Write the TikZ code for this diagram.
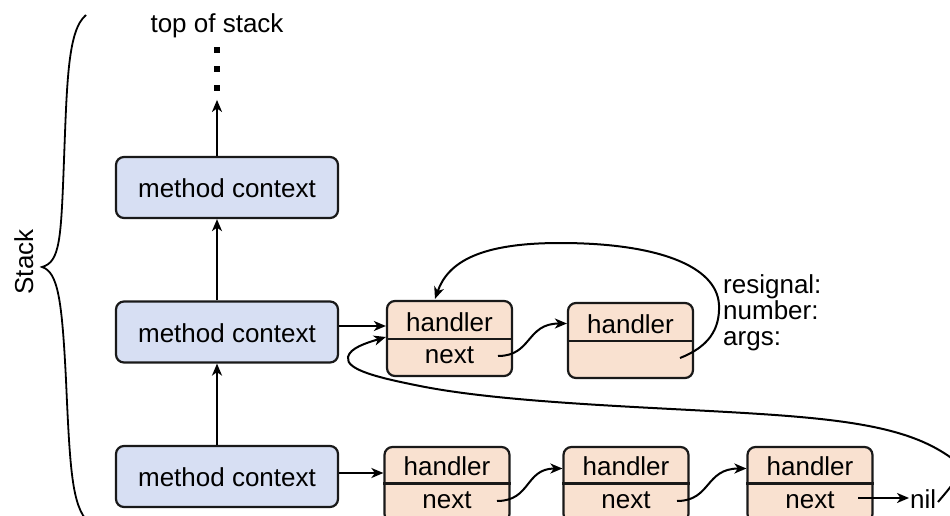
\documentclass[tikz,border=0pt]{standalone}
\usepackage{fontspec}
\setmainfont{Liberation Sans}
\usetikzlibrary{arrows.meta,calc}
\definecolor{mcblue}{RGB}{215,223,243}
\definecolor{hpeach}{RGB}{249,225,208}
\begin{document}
\begin{tikzpicture}[x=1pt,y=-1pt,
  font=\fontsize{26}{30}\selectfont,
  mcbox/.style={draw=black!90,line width=2.2pt,rounded corners=8pt,fill=mcblue,minimum width=222pt,minimum height=61pt,inner sep=0pt},
  hbox/.style={draw=black!90,line width=2.2pt,rounded corners=8pt,fill=hpeach,minimum width=125pt,minimum height=75pt,inner sep=0pt},
  lbl/.style={anchor=base,inner sep=0pt},
  lblw/.style={anchor=base west,inner sep=0pt},
  arr/.style={line width=2pt,-{Stealth[length=12pt,width=10pt,inset=3.5pt]}},
  divider/.style={line width=2.2pt,draw=black!90},
  dot/.style={fill=black,minimum size=5.5pt,inner sep=0pt}
]
\useasboundingbox (0,0) rectangle (950,516);
\clip (0,0) rectangle (950,516);

% brace and Stack label
\draw[line width=1.8pt] (86,15) .. controls (68,30) and (67,80) .. (64,160)
  .. controls (61,240) and (60,262) .. (42,267)
  .. controls (58,272) and (62,300) .. (66,380)
  .. controls (70,470) and (72,505) .. (88,522);
\node[rotate=90,anchor=base,inner sep=0pt] (stack) at (33,262) {Stack};

% method contexts
\node[mcbox] (mc3) at (227,187.5) {};
\node[mcbox] (mc2) at (227,332) {};
\node[mcbox] (mc1) at (227,476.5) {};
\node[lbl] (mc3t) at (227,197) {method context};
\node[lbl] (mc2t) at (227,342) {method context};
\node[lbl] (mc1t) at (227,486) {method context};

% top of stack
\node[lbl] (tos) at (217,33) {top of stack};
\node[dot] (d3) at (217,50) {};
\node[dot] (d2) at (217,69) {};
\node[dot] (d1) at (217,88) {};

\coordinate (v1) at ($(mc1.north)+(-10,0)$);
\coordinate (v2) at ($(mc2.north)+(-10,0)$);
\coordinate (v3) at ($(mc3.north)+(-10,0)$);
\draw[arr] (v1) -- (v1 |- mc2.south);
\draw[arr] (v2) -- (v2 |- mc3.south);
\draw[arr,shorten >=9pt] (v3) -- (v3 |- d1.south);

% handler boxes middle row
\node[hbox] (h1) at (449.5,338.5) {};
\node[hbox] (h2) at (630.5,340.5) {};
\draw[divider] ($(h1.west)+(0,0.5)$) -- ($(h1.east)+(0,0.5)$);
\draw[divider] ($(h2.west)+(0,0.5)$) -- ($(h2.east)+(0,0.5)$);
\node[lbl] (h1a) at (449.5,331) {handler};
\node[lbl] (h1b) at (449.5,363) {next};
\node[lbl] (h2a) at (630.5,333) {handler};

% handler boxes bottom row
\node[hbox] (b1) at (447,484.5) {};
\node[hbox] (b2) at (626,484.5) {};
\node[hbox] (b3) at (810,484.5) {};
\foreach \b in {b1,b2,b3}{
  \draw[divider] ($(\b.west)+(0,-1)$) -- ($(\b.east)+(0,-1)$);
}
\node[lbl] (b1a) at (447,475) {handler};
\node[lbl] (b1b) at (447,508) {next};
\node[lbl] (b2a) at (626,475) {handler};
\node[lbl] (b2b) at (626,508) {next};
\node[lbl] (b3a) at (810,475) {handler};
\node[lbl] (b3b) at (810,508) {next};

\node[lblw] (nil) at (910,508) {nil};

% labels
\node[lblw] (rs) at (723,293) {resignal:};
\node[lblw] (nm) at (723,319) {number:};
\node[lblw] (ag) at (723,345) {args:};

% method -> handler arrows
\coordinate (a2) at ($(mc2.east)+(0,-6)$);
\coordinate (a1) at ($(mc1.east)+(0,-3.5)$);
\draw[arr] (a2) -- (a2 -| h1.west);
\draw[arr] (a1) -- (a1 -| b1.west);

% next links
\coordinate (s1) at (498,356);
\draw[arr] (s1) .. controls (532,356) and (526,323.5) .. ($(h2.west)+(0,-17)$);
\coordinate (s4) at (497,501);
\draw[arr] (s4) .. controls (531,501) and (525,468.5) .. ($(b2.west)+(0,-16)$);
\coordinate (s6) at (677,501);
\draw[arr] (s6) .. controls (711,501) and (705,468.5) .. ($(b3.west)+(0,-16)$);
\coordinate (s5) at (858,498);
\draw[arr] (s5) -- ($(s5 -| nil.west)+(-1,0)$);

% resignal loop
\coordinate (s2) at (680,358);
\draw[arr] (s2) .. controls (708,347) and (720,330) .. (719,305)
  .. controls (717,265) and (655,243) .. (560,243)
  .. controls (480,243) and (448,262) .. ($(h1.north)+(-14.5,-1)$);

% long loop
\coordinate (s3) at (938,502);
\draw[arr] (s3) .. controls (952,485) and (968,470) .. (950,457)
  .. controls (920,436) and (880,424) .. (800,417)
  .. controls (700,408) and (520,406) .. (420,386)
  .. controls (380,378) and (345,370) .. (348,357)
  .. controls (350,348) and (366,343) .. ($(h1.west)+(0,-1.5)$);
\end{tikzpicture}
\end{document}
